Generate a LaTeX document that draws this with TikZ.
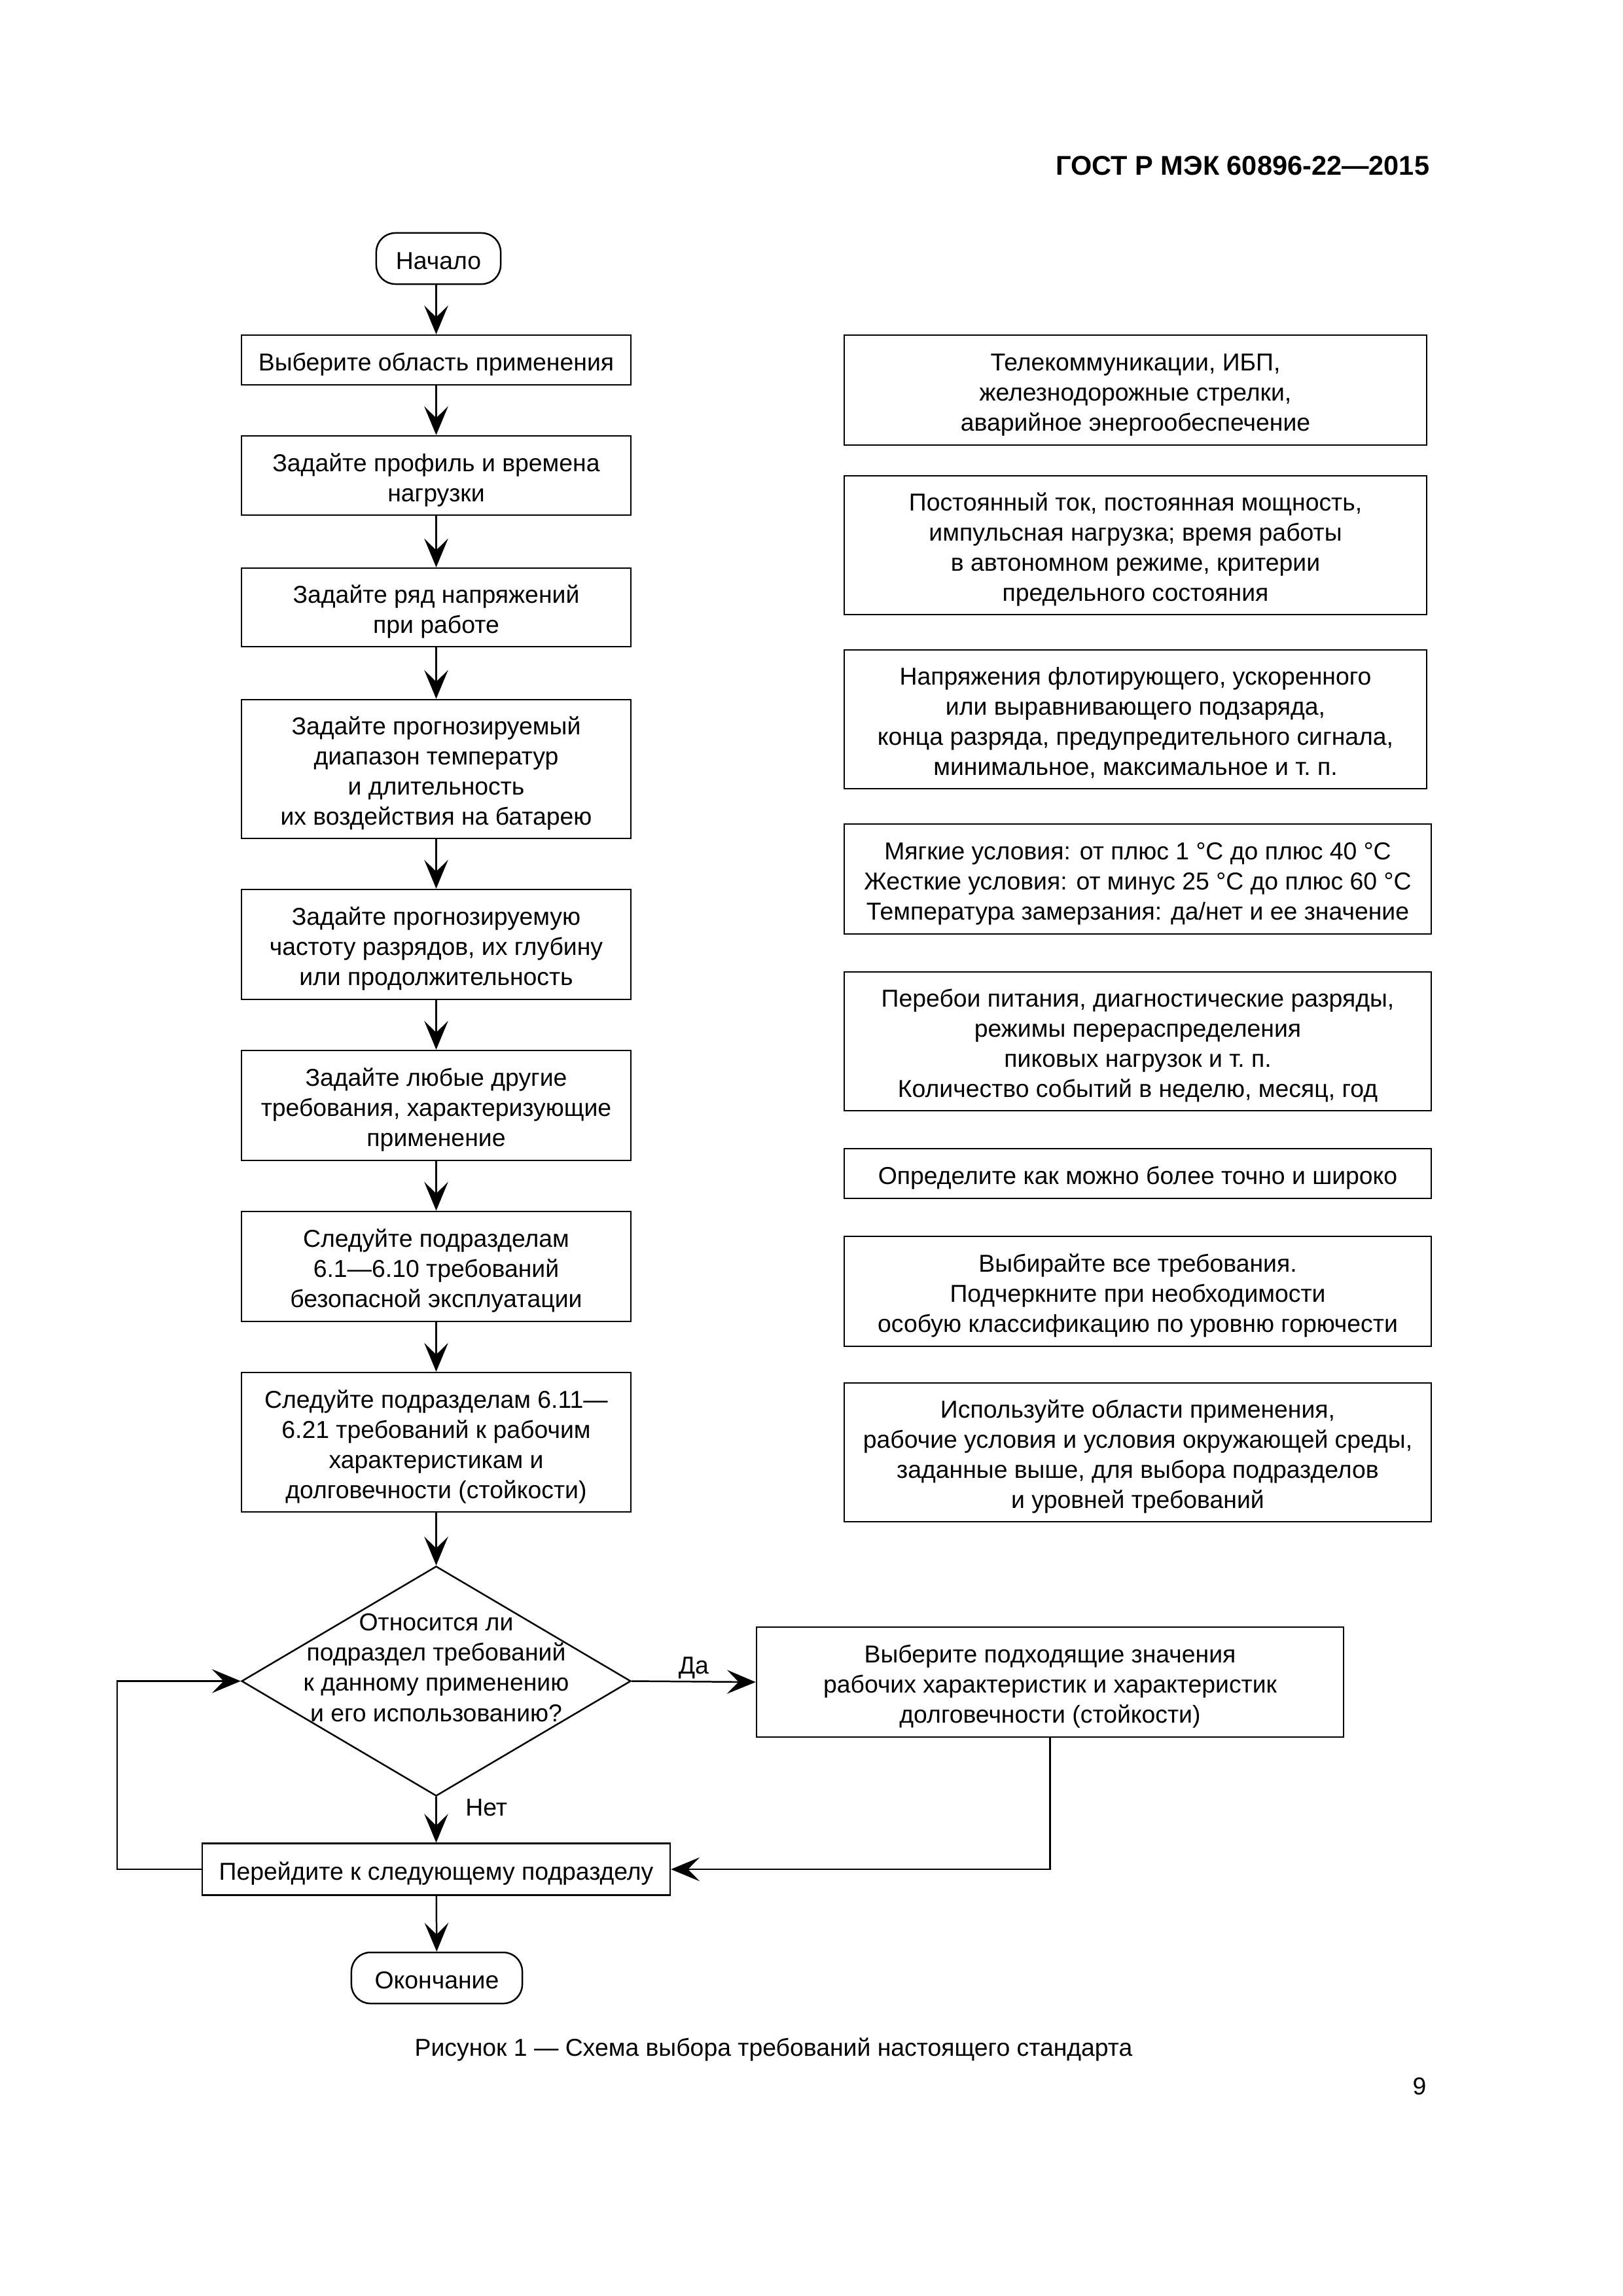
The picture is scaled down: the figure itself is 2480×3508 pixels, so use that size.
\documentclass[tikz,border=0pt]{standalone}
\usepackage{fontspec}
\setmainfont{Liberation Sans}
\usetikzlibrary{arrows.meta,shapes.geometric}
\newcommand\fs{\fontsize{9pt}{11.1pt}\selectfont}
\newcommand\T{\rule{0pt}{10pt}}
\newcommand\B{\rule[-2pt]{0pt}{2pt}}
\tikzset{
  box/.style={draw, line width=0.6pt, align=center, inner sep=0pt, font=\fs},
  lbox/.style={box, minimum width=143.3pt},
  rbox/.style={box, minimum width=216.1pt},
  term/.style={box, rounded corners=7pt},
  arr/.style={-{Stealth[length=10.6pt,width=8.8pt,inset=4.3pt]}, line width=0.6pt},
  lab/.style={font=\fs, inner sep=0pt},
}
\begin{document}
\begin{tikzpicture}[x=0.2409pt, y=-0.2409pt]
\useasboundingbox (0,0) rectangle (2480,3508);
% header
\node[anchor=east, font=\fontsize{10pt}{12pt}\selectfont\bfseries, inner sep=0pt] (hdr) at (2185,253) {ГОСТ Р МЭК 60896-22—2015};
% left column
\node[term, minimum width=45.8pt, minimum height=18.8pt] (start) at (670,395) {\T Начало\B};
\node[lbox, minimum height=18.3pt] (b1) at (666.5,550) {\T Выберите область применения\B};
\node[lbox, minimum height=29.15pt] (b2) at (666.5,726.5) {\T Задайте профиль и времена\\нагрузки\B};
\node[lbox, minimum height=28.9pt] (b3) at (666.5,928) {\T Задайте ряд напряжений\\при работе\B};
\node[lbox, minimum height=51.1pt] (b4) at (666.5,1175) {\T Задайте прогнозируемый\\диапазон температур\\и длительность\\их воздействия на батарею\B};
\node[lbox, minimum height=40.5pt] (b5) at (666.5,1443) {\T Задайте прогнозируемую\\частоту разрядов, их глубину\\или продолжительность\B};
\node[lbox, minimum height=40.5pt] (b6) at (666.5,1689) {\T Задайте любые другие\\требования, характеризующие\\применение\B};
\node[lbox, minimum height=40.5pt] (b7) at (666.5,1935) {\T Следуйте подразделам\\6.1—6.10 требований\\безопасной эксплуатации\B};
\node[lbox, minimum height=51.3pt] (b8) at (666.5,2203.5) {\T Следуйте подразделам 6.11—\\6.21 требований к рабочим\\характеристикам и\\долговечности (стойкости)\B};
\node[draw, diamond, line width=0.6pt, minimum width=143.3pt, minimum height=84.6pt, inner sep=0pt] (dec) at (666.5,2568.5) {};
\node[lab, align=center] (dtext) at (666.5,2548) {Относится ли\\подраздел требований\\к данному применению\\и его использованию?};
\node[rbox, minimum height=40.5pt] (yes) at (1604.5,2570) {\T Выберите подходящие значения\\рабочих характеристик и характеристик\\долговечности (стойкости)\B};
\node[box, minimum width=172.2pt, minimum height=19pt] (next) at (666.5,2856) {\T Перейдите к следующему подразделу\B};
\node[term, minimum width=62.9pt, minimum height=18.8pt] (end) at (667.5,3022) {\T Окончание\B};
% right column
\node[box, minimum width=214.4pt, minimum height=40.5pt] (r1) at (1735,596) {\T Телекоммуникации, ИБП,\\железнодорожные стрелки,\\аварийное энергообеспечение\B};
\node[box, minimum width=214.4pt, minimum height=51.1pt] (r2) at (1735,833) {\T Постоянный ток, постоянная мощность,\\импульсная нагрузка; время работы\\в автономном режиме, критерии\\предельного состояния\B};
\node[box, minimum width=214.4pt, minimum height=51.1pt] (r3) at (1735,1099) {\T Напряжения флотирующего, ускоренного\\или выравнивающего подзаряда,\\конца разряда, предупредительного сигнала,\\минимальное, максимальное и т.~п.\B};
\node[rbox, minimum height=40.5pt] (r4) at (1738.5,1343) {\T Мягкие условия: от плюс 1 °C до плюс 40 °C\\Жесткие условия: от минус 25 °C до плюс 60 °C\\Температура замерзания: да/нет и ее значение\B};
\node[rbox, minimum height=51.1pt] (r5) at (1738.5,1591) {\T Перебои питания, диагностические разряды,\\режимы перераспределения\\пиковых нагрузок и т.~п.\\Количество событий в неделю, месяц, год\B};
\node[rbox, minimum height=18.3pt] (r6) at (1738.5,1793) {\T Определите как можно более точно и широко\B};
\node[rbox, minimum height=40.5pt] (r7) at (1738.5,1973) {\T Выбирайте все требования.\\Подчеркните при необходимости\\особую классификацию по уровню горючести\B};
\node[rbox, minimum height=51.1pt] (r8) at (1738.5,2219) {\T Используйте области применения,\\рабочие условия и условия окружающей среды,\\заданные выше, для выбора подразделов\\и уровней требований\B};
% connectors
\draw[arr] (start.south -| b1.north) -- (b1.north);
\draw[arr] (b1) -- (b2);
\draw[arr] (b2) -- (b3);
\draw[arr] (b3) -- (b4);
\draw[arr] (b4) -- (b5);
\draw[arr] (b5) -- (b6);
\draw[arr] (b6) -- (b7);
\draw[arr] (b7) -- (b8);
\draw[arr] (b8) -- (dec.north);
\draw[arr] (dec.east) -- node[lab, above=0.7pt, pos=0.5] (da) {Да} (yes.west);
\draw[arr] (dec.south) -- node[lab, right=10.5pt, pos=0.24] (net) {Нет} (next.north);
\draw[arr] (yes.south) |- (next.east);
\coordinate (loop) at (179,2856);
\draw[arr] (next.west) -- (loop) |- (dec.west);
\draw[arr] (next) -- (end);
% caption
\node[lab] (cap) at (1182,3131) {Рисунок 1 — Схема выбора требований настоящего стандарта};
\node[lab] (pg) at (2169,3188) {9};
\end{tikzpicture}
\end{document}
